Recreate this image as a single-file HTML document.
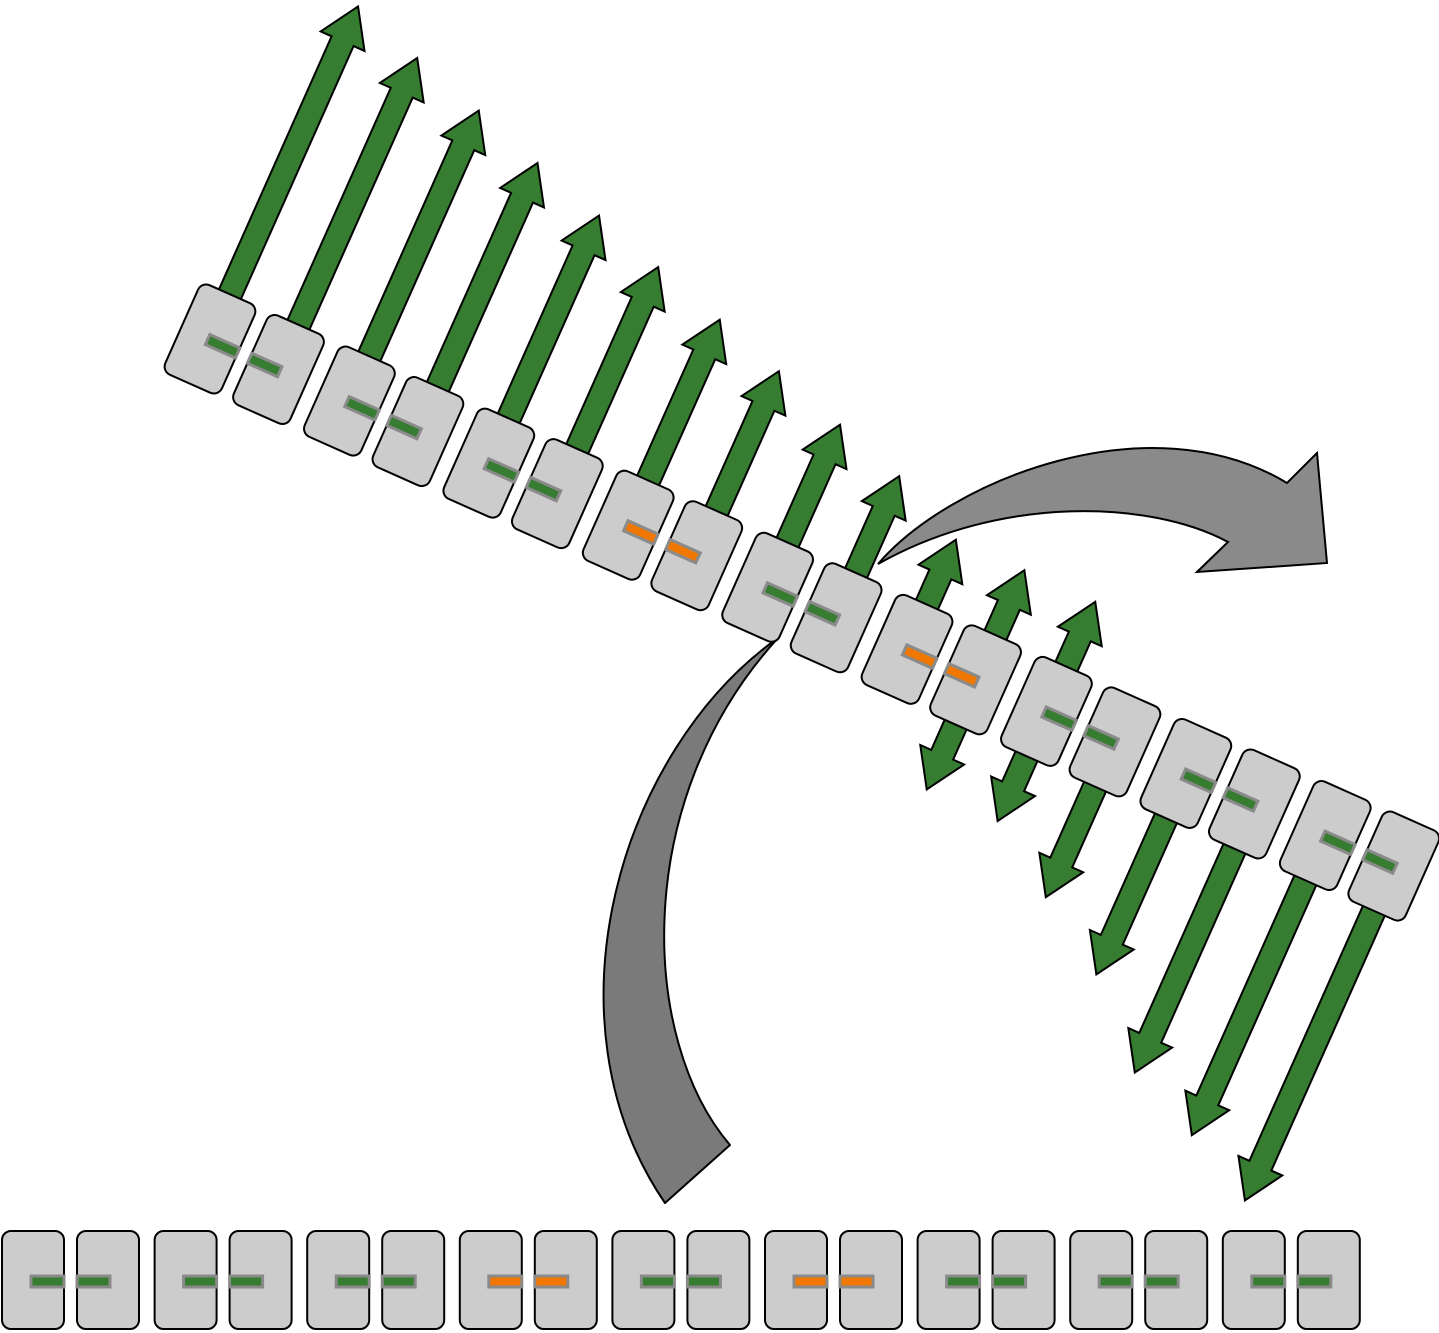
<!DOCTYPE html>
<html><head><meta charset="utf-8"><style>html,body{margin:0;padding:0;background:#fff}svg{display:block}</style></head>
<body>
<svg width="1439" height="1333" viewBox="0 0 1439 1333" xmlns="http://www.w3.org/2000/svg">
<defs>
<rect id="c" width="62" height="98" rx="9" fill="#cbcccb" stroke="#000" stroke-width="2"/>
<g id="row">
<use href="#c" x="2" y="1231"/><use href="#c" x="77" y="1231"/>
<use href="#c" x="154.6" y="1231"/><use href="#c" x="229.6" y="1231"/>
<use href="#c" x="307.2" y="1231"/><use href="#c" x="382.2" y="1231"/>
<use href="#c" x="459.8" y="1231"/><use href="#c" x="534.8" y="1231"/>
<use href="#c" x="612.4" y="1231"/><use href="#c" x="687.4" y="1231"/>
<use href="#c" x="765" y="1231"/><use href="#c" x="840" y="1231"/>
<use href="#c" x="917.6" y="1231"/><use href="#c" x="992.6" y="1231"/>
<use href="#c" x="1070.2" y="1231"/><use href="#c" x="1145.2" y="1231"/>
<use href="#c" x="1222.8" y="1231"/><use href="#c" x="1297.8" y="1231"/>
<g stroke="#8a8a8a" stroke-width="3">
<rect x="31" y="1276" width="33" height="11" fill="#367c31"/><rect x="77" y="1276" width="33" height="11" fill="#367c31"/>
<rect x="183.6" y="1276" width="33" height="11" fill="#367c31"/><rect x="229.6" y="1276" width="33" height="11" fill="#367c31"/>
<rect x="336.2" y="1276" width="33" height="11" fill="#367c31"/><rect x="382.2" y="1276" width="33" height="11" fill="#367c31"/>
<rect x="488.8" y="1276" width="33" height="11" fill="#f07800"/><rect x="534.8" y="1276" width="33" height="11" fill="#f07800"/>
<rect x="641.4" y="1276" width="33" height="11" fill="#367c31"/><rect x="687.4" y="1276" width="33" height="11" fill="#367c31"/>
<rect x="794" y="1276" width="33" height="11" fill="#f07800"/><rect x="840" y="1276" width="33" height="11" fill="#f07800"/>
<rect x="946.6" y="1276" width="33" height="11" fill="#367c31"/><rect x="992.6" y="1276" width="33" height="11" fill="#367c31"/>
<rect x="1099.2" y="1276" width="33" height="11" fill="#367c31"/><rect x="1145.2" y="1276" width="33" height="11" fill="#367c31"/>
<rect x="1251.8" y="1276" width="33" height="11" fill="#367c31"/><rect x="1297.8" y="1276" width="33" height="11" fill="#367c31"/>
</g>
</g>
</defs>

<g transform="translate(210,339) rotate(24) translate(-33,-1280)">
<g fill="#367c31" stroke="#000" stroke-width="2" stroke-linejoin="miter">
<polygon points="21,1280 21,954 9,954 33,916 57,954 45,954 45,1280"/>
<polygon points="96,1280 96,977 84,977 108,939 132,977 120,977 120,1280"/>
<polygon points="173.6,1280 173.6,1000 161.6,1000 185.6,962 209.6,1000 197.6,1000 197.6,1280"/>
<polygon points="248.6,1280 248.6,1024 236.6,1024 260.6,986 284.6,1024 272.6,1024 272.6,1280"/>
<polygon points="326.2,1280 326.2,1047 314.2,1047 338.2,1009 362.2,1047 350.2,1047 350.2,1280"/>
<polygon points="401.2,1280 401.2,1070 389.2,1070 413.2,1032 437.2,1070 425.2,1070 425.2,1280"/>
<polygon points="478.8,1280 478.8,1093 466.8,1093 490.8,1055 514.8,1093 502.8,1093 502.8,1280"/>
<polygon points="553.8,1280 553.8,1116 541.8,1116 565.8,1078 589.8,1116 577.8,1116 577.8,1280"/>
<polygon points="631.4,1280 631.4,1140 619.4,1140 643.4,1102 667.4,1140 655.4,1140 655.4,1280"/>
<polygon points="706.4,1280 706.4,1163 694.4,1163 718.4,1125 742.4,1163 730.4,1163 730.4,1280"/>
<polygon points="784,1280 784,1198 772,1198 796,1160 820,1198 808,1198 808,1280"/>
<polygon points="859,1198 847,1198 871,1160 895,1198 883,1198 883,1362 895,1362 871,1400 847,1362 859,1362"/>
<polygon points="936.6,1198 924.6,1198 948.6,1160 972.6,1198 960.6,1198 960.6,1362 972.6,1362 948.6,1400 924.6,1362 936.6,1362"/>
<polygon points="1011.6,1280 1035.6,1280 1035.6,1412 1047.6,1412 1023.6,1450 999.6,1412 1011.6,1412"/>
<polygon points="1089.2,1280 1113.2,1280 1113.2,1462 1125.2,1462 1101.2,1500 1077.2,1462 1089.2,1462"/>
<polygon points="1164.2,1280 1188.2,1280 1188.2,1536 1200.2,1536 1176.2,1574 1152.2,1536 1164.2,1536"/>
<polygon points="1241.8,1280 1265.8,1280 1265.8,1570 1277.8,1570 1253.8,1608 1229.8,1570 1241.8,1570"/>
<polygon points="1316.8,1280 1340.8,1280 1340.8,1608 1352.8,1608 1328.8,1646 1304.8,1608 1316.8,1608"/>
</g>
</g>

<path d="M778,638 C620,750 540,1020 665,1203 L730,1145 C640,1040 630,800 778,638 Z" fill="#7a7a7a" stroke="#000" stroke-width="2" stroke-linejoin="round"/>

<g transform="translate(210,339) rotate(24) translate(-33,-1280)">
<use href="#row"/>
</g>

<path d="M878,564 C950,480 1150,400 1287,483 L1317,453 L1327,563 L1197,572 L1228,542 C1150,500 1000,495 878,564 Z" fill="#8a8a8a" stroke="#000" stroke-width="2" stroke-linejoin="miter"/>

<use href="#row"/>
</svg>
</body></html>
